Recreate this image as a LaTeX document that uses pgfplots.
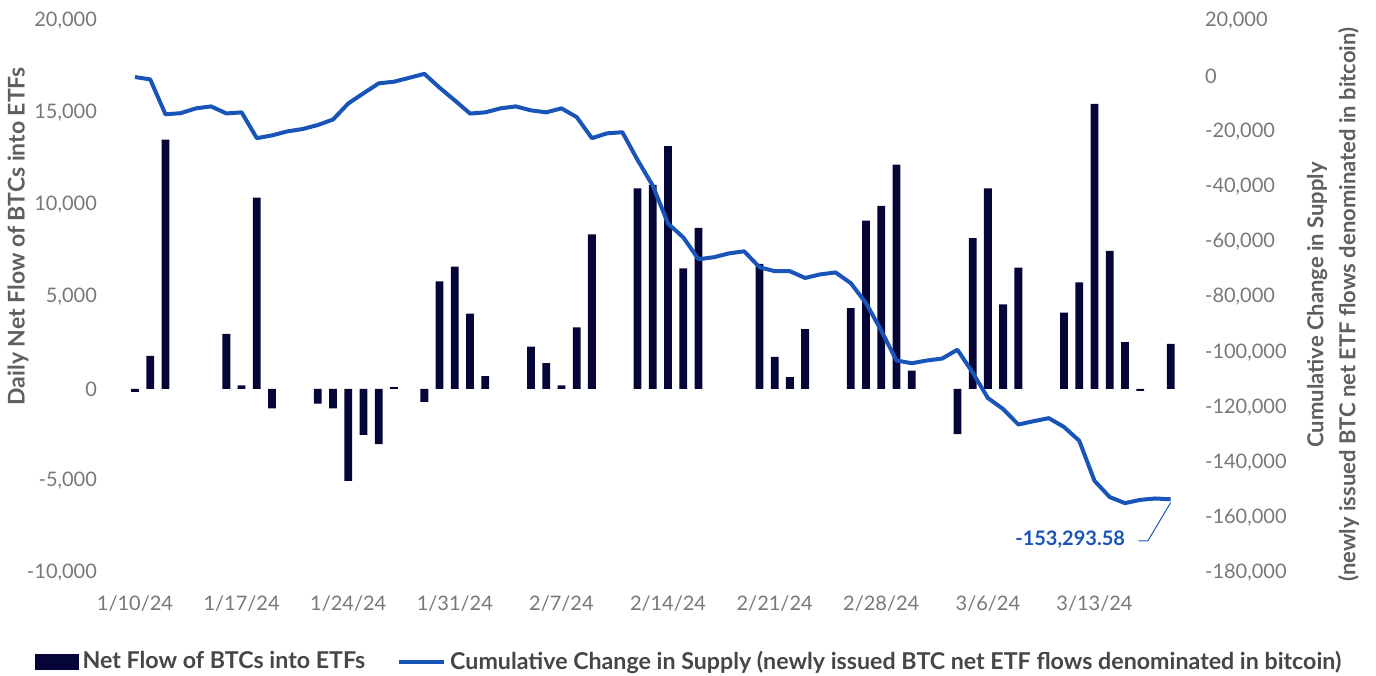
\documentclass[border=0pt]{standalone}
\usepackage{fontspec}
\setmainfont{Lato}
\usepackage{pgfplots}
\pgfplotsset{compat=1.18}
\definecolor{barcol}{RGB}{5,5,55}
\definecolor{linecol}{RGB}{25,85,185}
\definecolor{tickgray}{RGB}{120,120,120}
\definecolor{labgray}{RGB}{95,95,95}
\definecolor{legtext}{RGB}{70,70,70}

\pgfplotstableread{
day flow
0 -150
1 1800
2 13550
6 3000
7 200
8 10400
9 -1050
12 -800
13 -1050
14 -5000
15 -2500
16 -3000
17 100
19 -700
20 5850
21 6650
22 4100
23 700
26 2300
27 1400
28 200
29 3350
30 8400
33 10900
34 11100
35 13200
36 6550
37 8750
41 6800
42 1750
43 650
44 3250
47 4400
48 9150
49 9950
50 12200
51 1000
54 -2450
55 8200
56 10900
57 4600
58 6600
61 4150
62 5800
63 15500
64 7500
65 2550
66 -100
68 2450
}\flowtable

\pgfplotstableread{
day cum
0 -300
1 -1150
2 -13800
3 -13400
4 -11650
5 -10950
6 -13500
7 -13100
8 -22450
9 -21450
10 -20000
11 -19150
12 -17700
13 -15700
14 -9900
15 -6200
16 -2600
17 -2000
18 -600
19 860
20 -4170
21 -8780
22 -13530
23 -13100
24 -11650
25 -10950
26 -12370
27 -13100
28 -11650
29 -14800
30 -22450
31 -20700
32 -20300
33 -30360
34 -39700
35 -53400
36 -58400
37 -66300
38 -65600
39 -64200
40 -63450
41 -69200
42 -70650
43 -70650
44 -73100
45 -71800
46 -71100
47 -75000
48 -82200
49 -92200
50 -103000
51 -104000
52 -103000
53 -102300
54 -99100
55 -107400
56 -116600
57 -120600
58 -126200
59 -125000
60 -123900
61 -127100
62 -132100
63 -146600
64 -152500
65 -154700
66 -153500
67 -153000
68 -153294
}\cumtable

\begin{document}
\begin{tikzpicture}
\pgfplotsset{
  common/.style={
    at={(55pt,51pt)}, anchor=south west,
    scale only axis, width=540pt, height=276pt,
    xmin=-1.64, xmax=69.27,
    axis line style={draw=none},
    major tick length=0pt, minor tick num=0,
    scaled y ticks=false, scaled x ticks=false,
    ticklabel style={font=\fontsize{10}{12}\selectfont, text=tickgray},
  }
}
\begin{axis}[
  common,
  ymin=-10000, ymax=20000,
  ytick={-10000,-5000,0,5000,10000,15000,20000},
  yticklabels={{-10,000},{-5,000},0,{5,000},{10,000},{15,000},{20,000}},
  yticklabel style={xshift=-3pt},
  xtick={0,7,14,21,28,35,42,49,56,63},
  xticklabels={1/10/24,1/17/24,1/24/24,1/31/24,2/7/24,2/14/24,2/21/24,2/28/24,3/6/24,3/13/24},
  xticklabel style={yshift=-8pt},
  ylabel={Daily Net Flow of BTCs into ETFs},
  ylabel style={at={(axis description cs:-0.0852,0.61)}, anchor=center,
    font=\bfseries\fontsize{11.5}{13}\selectfont, text=labgray},
]
\addplot[ybar, bar width=3.9pt, fill=barcol, draw=none] table[x=day, y=flow] {\flowtable};
\end{axis}

\begin{axis}[
  common,
  axis y line*=right,
  hide x axis,
  ymin=-180000, ymax=20000,
  ytick={-180000,-160000,-140000,-120000,-100000,-80000,-60000,-40000,-20000,0,20000},
  yticklabels={{-180,000},{-160,000},{-140,000},{-120,000},{-100,000},{-80,000},{-60,000},{-40,000},{-20,000},0,{20,000}},
  yticklabel style={anchor=west, xshift=4pt},
  ylabel={Cumulative Change in Supply\\[3pt](newly issued BTC net ETF flows denominated in bitcoin)},
  ylabel style={at={(axis description cs:1.1324,0.486)}, anchor=center, align=center,
    font=\bfseries\fontsize{11}{13}\selectfont, text=labgray},
  legend style={at={(0.537,-0.161)}, anchor=center, draw=none, fill=none,
    legend columns=2, font=\bfseries\fontsize{11.6}{13}\selectfont, text=legtext,
    /tikz/every even column/.append style={column sep=14pt}},
  legend cell align=left,
]
\addlegendimage{legend image code/.code={\fill[barcol] (0pt,-3.75pt) rectangle (21.5pt,3.75pt);}}
\addlegendentry{Net Flow of BTCs into ETFs}
\addplot[linecol, line width=2pt, line join=round,
  legend image code/.code={\draw[linecol, line width=2pt] (0pt,0pt) -- (22.5pt,0pt);}]
  table[x=day, y=cum] {\cumtable};
\addlegendentry{Cumulative Change in Supply (newly issued BTC net ETF flows denominated in bitcoin)}
\draw[linecol, line width=0.5pt] (axis cs:65.9,-168400) -- (axis cs:66.5,-168400) -- (axis cs:68,-154500);
\node[text=linecol, font=\bfseries\fontsize{10}{12}\selectfont] at (axis cs:61.4,-168000) {-153,293.58};
\end{axis}
\pgfresetboundingbox
\useasboundingbox (0,0) rectangle (688pt,337.5pt);
\end{tikzpicture}
\end{document}
